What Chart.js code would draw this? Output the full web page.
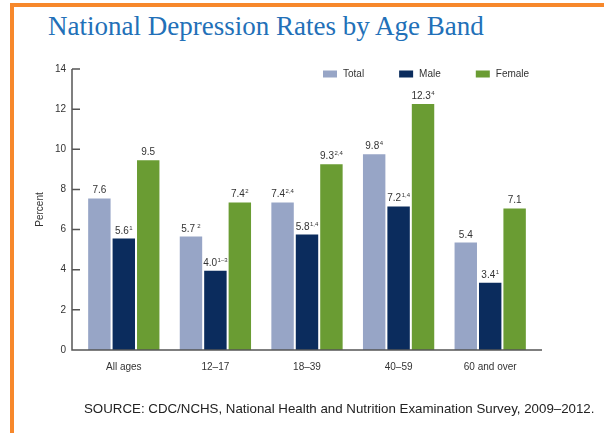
<!DOCTYPE html>
<html>
<head>
<meta charset="utf-8">
<script src="https://cdn.jsdelivr.net/npm/chart.js@4.4.1/dist/chart.umd.min.js"></script>
<style>
  body { margin: 0; background: #fff; }
  #wrap { position: relative; width: 604px; height: 433px; overflow: hidden; }
  #frame { position: absolute; left: 10px; top: 3px; width: 600px; height: 440px;
           border-top: 4px solid #f7882b; border-left: 4px solid #f7882b; }
  #titulo { position: absolute; left: 48px; top: 11px; margin: 0; white-space: nowrap;
            font: 27px "Liberation Serif", "DejaVu Serif", serif; color: #2270b8; font-weight: normal; }
  #fonte { position: absolute; left: 84px; top: 401px; margin: 0; white-space: nowrap;
           font: 13.3px "Liberation Sans", Arial, sans-serif; color: #222; }
  canvas { position: absolute; left: 0; top: 0; }
</style>
</head>
<body>
<div id="wrap">
  <div id="frame"></div>
  <h1 id="titulo">National Depression Rates by Age Band</h1>
  <canvas id="grafico" width="604" height="433"></canvas>
  <p id="fonte">SOURCE: CDC/NCHS, National Health and Nutrition Examination Survey, 2009–2012.</p>
</div>
<script>
const faixas = ["All ages", "12–17", "18–39", "40–59", "60 and over"];
const series = ["Total", "Male", "Female"];
const total = [7.6, 5.7, 7.4, 9.8, 5.4];
const masculino = [5.6, 4.0, 5.8, 7.2, 3.4];
const feminino = [9.5, 7.4, 9.3, 12.3, 7.1];
// notas sobrescritas de cada valor
const notasTotal = ["", " 2", "2,4", "4", ""];
const notasMasculino = ["1", "1–3", "1,4", "1,4", "1"];
const notasFeminino = ["", "2", "2,4", "4", ""];
const yTicks = [0, 2, 4, 6, 8, 10, 12, 14];
const cores = ["#97a5c6", "#0b2c5d", "#6a9c33"];

const fonteBase = '"Liberation Sans", Arial, sans-serif';

// eixos desenhados a mao (linha do y fica um pouco fora da area)
const eixosPlugin = {
  id: "eixos",
  afterDraw(chart) {
    const ctx = chart.ctx;
    const area = chart.chartArea;
    const y = chart.scales.y;
    const x0 = area.left - 6;
    ctx.save();
    ctx.strokeStyle = "#555";
    ctx.lineWidth = 1.5;
    ctx.beginPath();
    ctx.moveTo(x0, y.getPixelForValue(yTicks[yTicks.length - 1]));
    ctx.lineTo(x0, area.bottom);
    ctx.lineTo(area.right + 6, area.bottom);
    yTicks.forEach(v => {
      const py = y.getPixelForValue(v);
      ctx.moveTo(x0, py);
      ctx.lineTo(x0 + 8, py);
    });
    ctx.stroke();
    ctx.restore();
  }
};

const rotulosPlugin = {
  id: "rotulos",
  afterDatasetsDraw(chart) {
    const ctx = chart.ctx;
    const notas = [notasTotal, notasMasculino, notasFeminino];
    ctx.save();
    ctx.fillStyle = "#333";
    ctx.textBaseline = "alphabetic";
    chart.data.datasets.forEach((ds, i) => {
      const meta = chart.getDatasetMeta(i);
      meta.data.forEach((bar, j) => {
        const txt = ds.data[j].toFixed(1);
        const sup = notas[i][j];
        ctx.font = "10px " + fonteBase;
        const w1 = ctx.measureText(txt).width;
        ctx.font = "6px " + fonteBase;
        const w2 = sup ? ctx.measureText(sup).width + 0.5 : 0;
        const xi = bar.x - (w1 + w2) / 2;
        ctx.font = "10px " + fonteBase;
        ctx.textAlign = "left";
        ctx.fillText(txt, xi, bar.y - 4);
        if (sup) {
          ctx.font = "6px " + fonteBase;
          ctx.fillText(sup, xi + w1 + 0.5, bar.y - 8);
        }
      });
    });
    ctx.restore();
  }
};

const legendaPlugin = {
  id: "legenda",
  afterDraw(chart) {
    const ctx = chart.ctx;
    let x = 323;
    const yc = 74;
    ctx.save();
    ctx.font = "10px " + fonteBase;
    ctx.textBaseline = "middle";
    ctx.textAlign = "left";
    chart.data.datasets.forEach(ds => {
      ctx.fillStyle = ds.backgroundColor;
      ctx.fillRect(x, yc - 3.5, 14, 7);
      ctx.fillStyle = "#333";
      ctx.fillText(ds.label, x + 20, yc);
      x += 20 + ctx.measureText(ds.label).width + 35;
    });
    ctx.restore();
  }
};

new Chart(document.getElementById("grafico"), {
  type: "bar",
  data: {
    labels: faixas,
    datasets: [
      { label: series[0], data: total, backgroundColor: cores[0] },
      { label: series[1], data: masculino, backgroundColor: cores[1] },
      { label: series[2], data: feminino, backgroundColor: cores[2] }
    ]
  },
  options: {
    responsive: false,
    animation: false,
    layout: { padding: { top: 69, right: 68, bottom: 0, left: 0 } },
    datasets: {
      bar: {
        categoryPercentage: 0.8,
        barPercentage: 1.0,
        borderWidth: 1,
        borderColor: "rgba(255,255,255,0.6)",
        borderSkipped: "bottom"
      }
    },
    scales: {
      x: {
        grid: { display: false },
        border: { display: false },
        ticks: { color: "#333", font: { size: 10, family: fonteBase }, padding: 3 },
        afterFit: s => { s.height = 83; }
      },
      y: {
        min: 0,
        max: 14,
        grid: { display: false, drawTicks: false },
        border: { display: false },
        ticks: { stepSize: 2, color: "#333", font: { size: 10, family: fonteBase }, padding: 12 },
        title: { display: true, text: "Percent", color: "#333", font: { size: 10, family: fonteBase }, padding: { top: 34, bottom: 0 } },
        afterFit: s => { s.width = 78; }
      }
    },
    plugins: {
      legend: { display: false },
      tooltip: { enabled: false }
    }
  },
  plugins: [eixosPlugin, rotulosPlugin, legendaPlugin]
});
</script>
</body>
</html>
